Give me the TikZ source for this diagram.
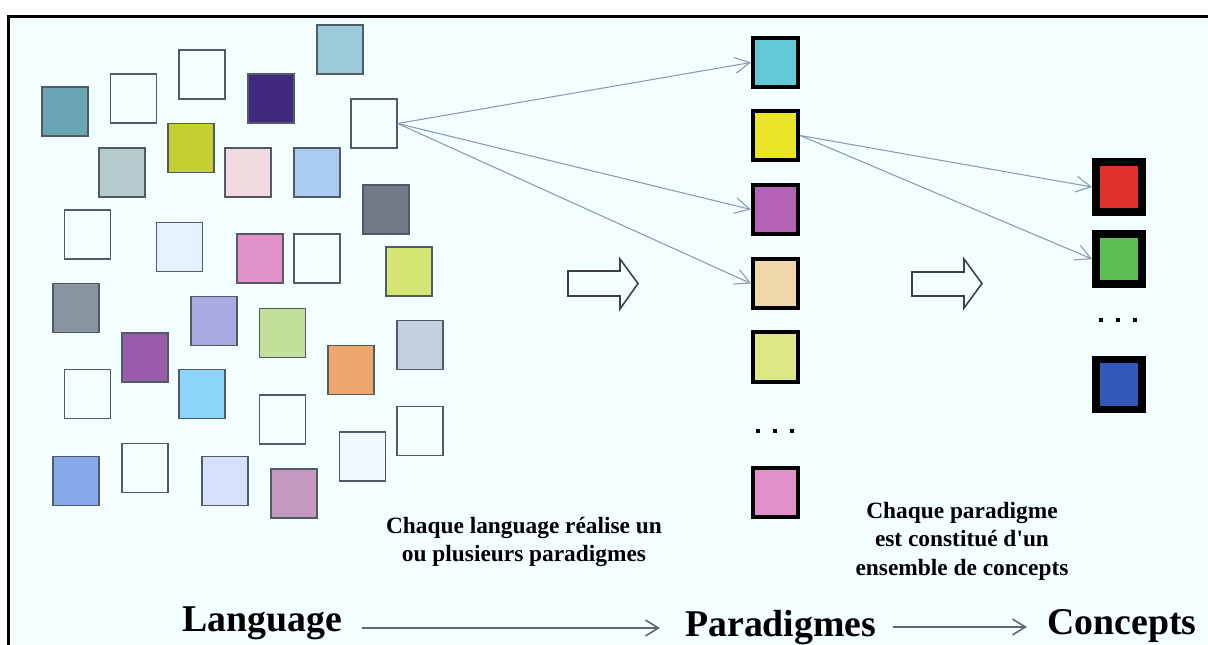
\documentclass[tikz,border=0pt]{standalone}
\usepackage{fontspec}
\setmainfont{Liberation Serif}
% a face without TeX ligature mapping, so that ' stays a straight quote
\newfontfamily\notefont{Liberation Serif}
\usetikzlibrary{arrows.meta}
\definecolor{paper}{HTML}{F2FEFF}
\definecolor{edgegrey}{HTML}{525A68}
\definecolor{linkblue}{HTML}{8A98B6}
\definecolor{flowgrey}{HTML}{5F6773}
\tikzset{
  lsq/.style={draw=edgegrey, line width=0.75pt, minimum width=0.92cm, minimum height=0.98cm, inner sep=0pt},
  psq/.style={draw=black, line width=2.1pt, minimum width=0.91cm, minimum height=0.99cm, inner sep=0pt},
  csq/.style={draw=black, line width=4.5pt, minimum width=0.92cm, minimum height=1.0cm, inner sep=0pt},
  link/.style={draw=linkblue, line width=0.6pt, -{Straight Barb[length=8.5pt,width=9pt]}},
  flow/.style={draw=flowgrey, line width=0.9pt, -{Straight Barb[length=7.4pt,width=9pt]}},
  blockarrow/.style={draw=black!75, line width=0.9pt, fill=paper, line join=miter},
  note/.style={font=\notefont\bfseries\fontsize{13.3}{16.2}\selectfont, align=center, inner sep=0pt},
  title/.style={font=\bfseries\fontsize{21.5}{24}\selectfont, inner sep=0pt, anchor=base west},
}
\begin{document}
\begin{tikzpicture}[x=0.02cm, y=-0.02cm]
\useasboundingbox (0,0) rectangle (1208,645);
\fill[white] (0,0) rectangle (1208,645);
% frame of the panel
\draw[line width=1.7pt, fill=paper] (8.5,16.3) rectangle (1240,690);

% the cloud of languages
\foreach \n/\x/\y/\c in {
  1/65/111.5/6BA5B4, 2/133.5/98.5/F2FEFF, 3/202/74.5/F2FEFF, 4/271/98.5/3F2A7E,
  5/340/49.5/9BC9DA, 6/374/123.5/F2FEFF, 7/191/148/C5CF2F, 8/122/172.5/B6CBCE,
  9/248/172.5/F0DADD, 10/317/172.5/AACCF2, 11/386/209.5/717B88, 12/87.5/234.5/F2FEFF,
  13/179.5/247/E5F1FC, 14/260/258.5/E190C8, 15/317/258.5/F2FEFF, 16/409/271.5/D5E672,
  17/76/308/8A95A2, 18/214/321/AAA9E2, 19/282.5/333/C2E09A, 20/145/357.5/985CAA,
  21/420/345/C5D1E1, 22/351/370/EDA76D, 23/87.5/394/F2FEFF, 24/202/394/8DD4FA,
  25/282.5/419.5/F2FEFF, 26/420/431/F2FEFF, 27/362.5/456.5/EDF8FF, 28/76/481/85A8E8,
  29/145/468/F2FEFF, 30/225/481/D5E0FC, 31/294/493.5/C29ABF}
{
  \definecolor{sqfill}{HTML}{\c}
  \node[lsq, fill=sqfill] (s\n) at (\x,\y) {};
}

% paradigms
\foreach \n/\y/\c in {1/62.5/62C9D6, 2/135.5/E8E626, 3/209.5/B462B4, 4/283.5/EFD7AA, 5/357/DCE883, 6/492.5/E290C8}
{
  \definecolor{sqfill}{HTML}{\c}
  \node[psq, fill=sqfill] (p\n) at (775.5,\y) {};
}
\foreach \x in {758,775,792} \fill (\x-1.8,429.2) rectangle (\x+1.8,432.8);

% concepts
\foreach \n/\y/\c in {1/187/E0302A, 2/259/5CBF52, 3/384.5/3258B8}
{
  \definecolor{sqfill}{HTML}{\c}
  \node[csq, fill=sqfill] (c\n) at (1119,\y) {};
}
\foreach \x in {1101,1118,1135} \fill (\x-2,318) rectangle (\x+2,322);

% links language -> paradigms -> concepts
\draw[link] (s6.east) -- (p1.west);
\draw[link] (s6.east) -- (p3.west);
\draw[link] (s6.east) -- (p4.west);
\draw[link] (p2.east) -- (c1.west);
\draw[link] (p2.east) -- (c2.west);

% hollow block arrows
\draw[blockarrow] (568,271) -- (620,271) -- (620,259) -- (638,283.5) -- (620,309) -- (620,296) -- (568,296) -- cycle;
\draw[blockarrow] (912,272) -- (964,272) -- (964,259) -- (982,283.5) -- (964,308) -- (964,296) -- (912,296) -- cycle;

% explanations
\node[note] (n1) at (524,542) {Chaque language réalise un\\ou plusieurs paradigmes};
\node[note] (n2) at (962,541) {Chaque paradigme\\est constitué d'un\\ensemble de concepts};

% bottom line
\node[title] (lang) at (182,631) {Language};
\node[title] (para) at (685,636) {Paradigmes};
\node[title] (conc) at (1047,634) {Concepts};
\draw[flow] ([shift={(20,-3)}]lang.base east) -- ([shift={(-25,-8)}]para.base west);
\draw[flow] ([shift={(16,-9)}]para.base east) -- ([shift={(-20,-7)}]conc.base west);
\end{tikzpicture}
\end{document}
